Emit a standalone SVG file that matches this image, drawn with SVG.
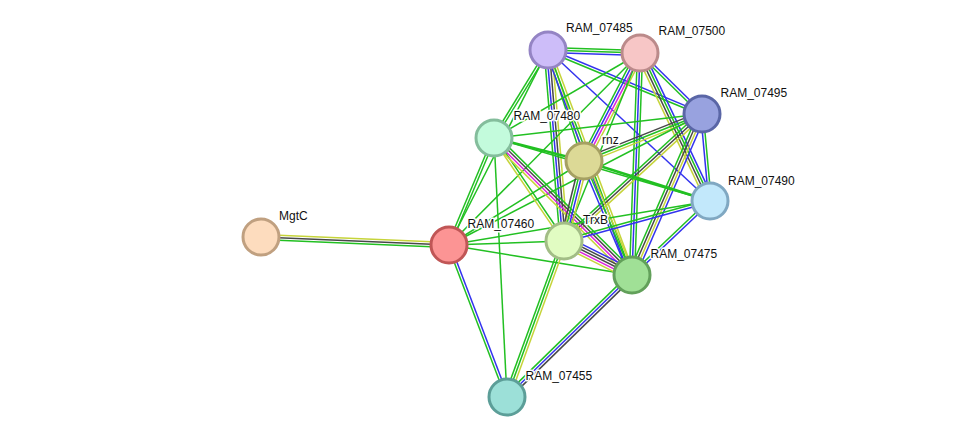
<svg xmlns="http://www.w3.org/2000/svg" width="975" height="443" viewBox="0 0 975 443">
<style>
line{stroke-width:1.5;fill:none}
.g{stroke:#22c022}.b{stroke:#3333ee}.k{stroke:#484848}.m{stroke:#dd22dd}.y{stroke:#c6d43a}
.n circle{stroke-width:3}
.n text{font-family:"Liberation Sans",Arial,sans-serif;font-size:12px;fill:#111;stroke:#fff;stroke-width:3;stroke-linejoin:round;paint-order:stroke}
</style>
<rect width="975" height="443" fill="#fff"/>
<g id="edges">
<g transform="translate(548,50) rotate(1.87)"><line x2="92.05" y1="-2.6" y2="-2.6" class="g"/><line x2="92.05" class="g"/><line x2="92.05" y1="2.6" y2="2.6" class="b"/></g>
<g transform="translate(548,50) rotate(22.57)"><line x2="166.8" y1="-1.3" y2="-1.3" class="b"/><line x2="166.8" y1="1.3" y2="1.3" class="g"/></g>
<g transform="translate(548,50) rotate(121.53)"><line x2="103.3" y1="-1.3" y2="-1.3" class="g"/><line x2="103.3" y1="1.3" y2="1.3" class="g"/></g>
<g transform="translate(548,50) rotate(72.03)"><line x2="116.7" y1="-1.3" y2="-1.3" class="y"/><line x2="116.7" y1="1.3" y2="1.3" class="g"/></g>
<g transform="translate(548,50) rotate(42.99)"><line x2="221.5" class="b"/></g>
<g transform="translate(548,50) rotate(85.21)"><line x2="191.7" y1="-3.9" y2="-3.9" class="y"/><line x2="191.7" y1="-1.3" y2="-1.3" class="k"/><line x2="191.7" y1="1.3" y2="1.3" class="b"/><line x2="191.7" y1="3.9" y2="3.9" class="g"/></g>
<g transform="translate(548,50) rotate(69.53)"><line x2="240.2" y1="-2.6" y2="-2.6" class="y"/><line x2="240.2" class="g"/><line x2="240.2" y1="2.6" y2="2.6" class="b"/></g>
<g transform="translate(548,50) rotate(116.92)"><line x2="218.7" class="g"/></g>
<g transform="translate(640,53) rotate(44.53)"><line x2="87" y1="-1.3" y2="-1.3" class="b"/><line x2="87" y1="1.3" y2="1.3" class="g"/></g>
<g transform="translate(640,53) rotate(149.79)"><line x2="168.9" class="g"/></g>
<g transform="translate(640,53) rotate(117.41)"><line x2="121.7" y1="-3.9" y2="-3.9" class="y"/><line x2="121.7" y1="-1.3" y2="-1.3" class="m"/><line x2="121.7" y1="1.3" y2="1.3" class="b"/><line x2="121.7" y1="3.9" y2="3.9" class="g"/></g>
<g transform="translate(640,53) rotate(64.69)"><line x2="163.7" y1="-3.9" y2="-3.9" class="b"/><line x2="163.7" y1="-1.3" y2="-1.3" class="g"/><line x2="163.7" y1="1.3" y2="1.3" class="k"/><line x2="163.7" y1="3.9" y2="3.9" class="y"/></g>
<g transform="translate(640,53) rotate(112.01)"><line x2="202.8" class="g"/></g>
<g transform="translate(640,53) rotate(92.06)"><line x2="222.1" y1="-2.6" y2="-2.6" class="g"/><line x2="222.1" class="b"/><line x2="222.1" y1="2.6" y2="2.6" class="g"/></g>
<g transform="translate(640,53) rotate(134.85)"><line x2="270.8" class="g"/></g>
<g transform="translate(494,138) rotate(-6.58)"><line x2="209.4" class="g"/></g>
<g transform="translate(584,161) rotate(-21.72)"><line x2="127" y1="-2.6" y2="-2.6" class="k"/><line x2="127" class="g"/><line x2="127" y1="2.6" y2="2.6" class="y"/></g>
<g transform="translate(702,114) rotate(84.75)"><line x2="87.4" y1="-1.3" y2="-1.3" class="g"/><line x2="87.4" y1="1.3" y2="1.3" class="b"/></g>
<g transform="translate(564,241) rotate(-42.62)"><line x2="187.6" y1="-2.6" y2="-2.6" class="g"/><line x2="187.6" class="k"/><line x2="187.6" y1="2.6" y2="2.6" class="y"/></g>
<g transform="translate(632,275) rotate(-66.5)"><line x2="175.6" y1="-3.9" y2="-3.9" class="g"/><line x2="175.6" y1="-1.3" y2="-1.3" class="k"/><line x2="175.6" y1="1.3" y2="1.3" class="y"/><line x2="175.6" y1="3.9" y2="3.9" class="b"/></g>
<g transform="translate(449,245) rotate(-27.37)"><line x2="284.9" class="g"/></g>
<g transform="translate(494,138) rotate(14.34)"><line x2="92.9" class="g" style="stroke-width:2.4"/></g>
<g transform="translate(494,138) rotate(16.26)"><line x2="225" class="g"/></g>
<g transform="translate(494,138) rotate(112.81)"><line x2="116.1" y1="-1.3" y2="-1.3" class="g"/><line x2="116.1" y1="1.3" y2="1.3" class="g"/></g>
<g transform="translate(494,138) rotate(55.8)"><line x2="124.5" y1="-1.3" y2="-1.3" class="g"/><line x2="124.5" y1="1.3" y2="1.3" class="y"/></g>
<g transform="translate(494,138) rotate(44.79)"><line x2="194.5" y1="-3.9" y2="-3.9" class="g"/><line x2="194.5" y1="-1.3" y2="-1.3" class="k"/><line x2="194.5" y1="1.3" y2="1.3" class="m"/><line x2="194.5" y1="3.9" y2="3.9" class="y"/></g>
<g transform="translate(494,138) rotate(87.13)"><line x2="259.3" class="g"/></g>
<g transform="translate(584,161) rotate(17.61)"><line x2="132.2" class="g" style="stroke-width:2.4"/></g>
<g transform="translate(584,161) rotate(104.04)"><line x2="82.5" y1="-3.9" y2="-3.9" class="y"/><line x2="82.5" y1="-1.3" y2="-1.3" class="b"/><line x2="82.5" y1="1.3" y2="1.3" class="g"/><line x2="82.5" y1="3.9" y2="3.9" class="k"/></g>
<g transform="translate(584,161) rotate(67.17)"><line x2="123.7" y1="-2.6" y2="-2.6" class="y"/><line x2="123.7" class="g"/><line x2="123.7" y1="2.6" y2="2.6" class="b"/></g>
<g transform="translate(449,245) rotate(-31.89)"><line x2="159" class="g"/></g>
<g transform="translate(564,241) rotate(-15.32)"><line x2="151.4" y1="-1.3" y2="-1.3" class="g"/><line x2="151.4" y1="1.3" y2="1.3" class="b"/></g>
<g transform="translate(632,275) rotate(-43.49)"><line x2="107.5" y1="-1.3" y2="-1.3" class="g"/><line x2="107.5" y1="1.3" y2="1.3" class="b"/></g>
<g transform="translate(449,245) rotate(-9.57)"><line x2="264.7" class="g"/></g>
<g transform="translate(261,237) rotate(2.44)"><line x2="188.2" y1="-2.6" y2="-2.6" class="y"/><line x2="188.2" class="k"/><line x2="188.2" y1="2.6" y2="2.6" class="g"/></g>
<g transform="translate(449,245) rotate(-1.99)"><line x2="115.1" class="g"/></g>
<g transform="translate(449,245) rotate(9.31)"><line x2="185.4" class="g"/></g>
<g transform="translate(449,245) rotate(69.12)"><line x2="162.7" y1="-1.3" y2="-1.3" class="b"/><line x2="162.7" y1="1.3" y2="1.3" class="g"/></g>
<g transform="translate(564,241) rotate(26.57)"><line x2="76" y1="-5.2" y2="-5.2" class="b"/><line x2="76" y1="-2.6" y2="-2.6" class="k"/><line x2="76" class="k"/><line x2="76" y1="2.6" y2="2.6" class="m"/><line x2="76" y1="5.2" y2="5.2" class="y"/></g>
<g transform="translate(564,241) rotate(110.07)"><line x2="166.1" y1="-2.6" y2="-2.6" class="y"/><line x2="166.1" class="g"/><line x2="166.1" y1="2.6" y2="2.6" class="g"/></g>
<g transform="translate(632,275) rotate(135.7)"><line x2="174.7" y1="-2.6" y2="-2.6" class="k"/><line x2="174.7" class="b"/><line x2="174.7" y1="2.6" y2="2.6" class="g"/></g>
</g>
<g id="RAM_07485" class="n"><circle cx="548" cy="50" r="18" fill="#cdbdf9" stroke="#9484c4"/><text x="566" y="31.5">RAM_07485</text></g>
<g id="RAM_07500" class="n"><circle cx="640" cy="53" r="18" fill="#f7c6c6" stroke="#bb8a8a"/><text x="658.5" y="35">RAM_07500</text></g>
<g id="RAM_07495" class="n"><circle cx="702" cy="114" r="18" fill="#98a2df" stroke="#5a66a6"/><text x="720.5" y="97">RAM_07495</text></g>
<g id="RAM_07480" class="n"><circle cx="494" cy="138" r="18" fill="#c3fbdc" stroke="#84bd9c"/><text x="513.5" y="120">RAM_07480</text></g>
<g id="rnz" class="n"><circle cx="584" cy="161" r="18" fill="#dcd996" stroke="#a5a062"/><text x="602" y="144">rnz</text></g>
<g id="RAM_07490" class="n"><circle cx="710" cy="201" r="18" fill="#c2e8fb" stroke="#80a8c2"/><text x="728" y="184.5">RAM_07490</text></g>
<g id="MgtC" class="n"><circle cx="261" cy="237" r="18" fill="#fddcbe" stroke="#c0a080"/><text x="279" y="219.5">MgtC</text></g>
<g id="RAM_07460" class="n"><circle cx="449" cy="245" r="18" fill="#fc9494" stroke="#c05656"/><text x="467.5" y="227.5">RAM_07460</text></g>
<g id="TrxB" class="n"><circle cx="564" cy="241" r="18" fill="#e1fcc2" stroke="#a2bd86"/><text x="583" y="223.5">TrxB</text></g>
<g id="RAM_07475" class="n"><circle cx="632" cy="275" r="18" fill="#a0e096" stroke="#62a05a"/><text x="650.5" y="257.5">RAM_07475</text></g>
<g id="RAM_07455" class="n"><circle cx="507" cy="397" r="18" fill="#9ce0d8" stroke="#5c9e98"/><text x="525.5" y="380">RAM_07455</text></g>
</svg>
